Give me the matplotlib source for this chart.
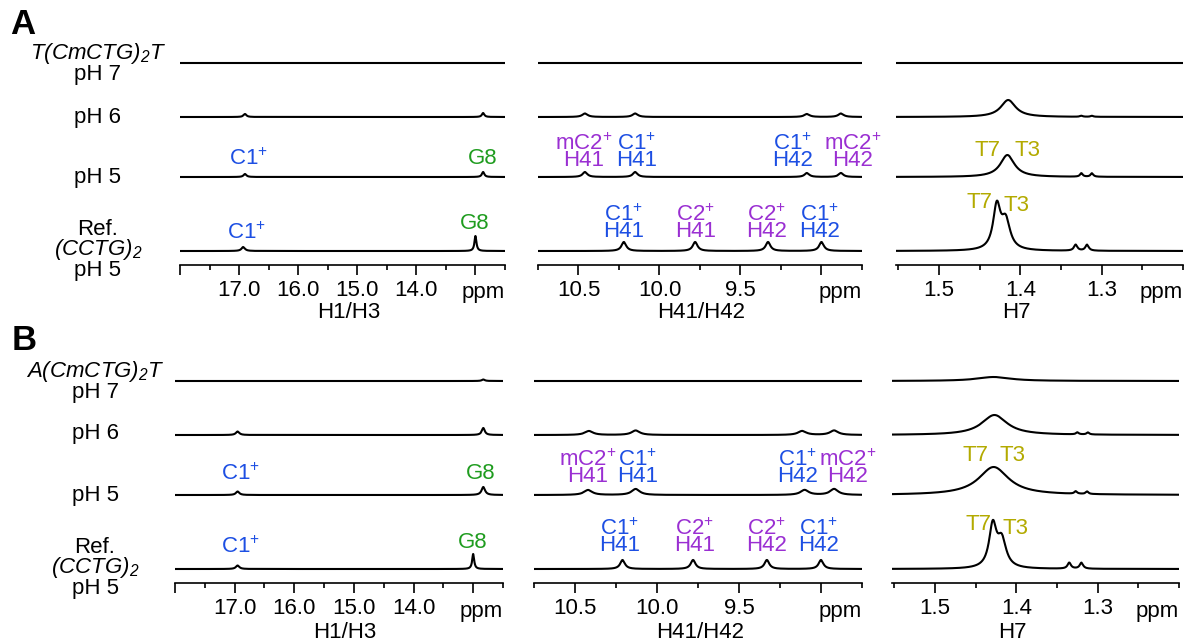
import numpy as np
import matplotlib
matplotlib.use("Agg")
import matplotlib.pyplot as plt
from matplotlib.transforms import blended_transform_factory

plt.rcParams['font.family'] = ['Liberation Sans', 'DejaVu Sans']
plt.rcParams['mathtext.fontset'] = 'custom'
plt.rcParams['mathtext.rm'] = 'Liberation Sans'
plt.rcParams['mathtext.it'] = 'Liberation Sans:italic'
plt.rcParams['mathtext.sf'] = 'Liberation Sans:italic'
plt.rcParams['mathtext.bf'] = 'Liberation Sans:bold'

# ---------------- data (ppm, peak heights, line widths) ----------------
REGION_NAMES = ['H1/H3', 'H41/H42', 'H7']
REGION_LIMITS = [(18.0, 12.5), (10.75, 8.75), (1.553, 1.2)]
REGION_MAJOR = [[18.0, 17.0, 16.0, 15.0, 14.0, 13.0], [10.5, 10.0, 9.5, 9.0], [1.5, 1.4, 1.3]]
REGION_MAJOR_LABELS = [['', '17.0', '16.0', '15.0', '14.0', ''], ['10.5', '10.0', '9.5', ''], ['1.5', '1.4', '1.3']]
REGION_MINOR = [[17.5, 16.5, 15.5, 14.5, 13.5, 12.5],
                [10.75, 10.25, 9.75, 9.25, 8.75],
                [1.55, 1.45, 1.35, 1.25, 1.2]]
REGION_LABEL_X = [15.15, 9.74, 1.405]

A_TRACE_LABELS = [r'$\mathsf{T(CmCTG)_{2}T}$' + '\npH 7', 'pH 6', 'pH 5',
                  'Ref.\n' + r'$\mathsf{(CCTG)_{2}}$' + '\npH 5']
B_TRACE_LABELS = [r'$\mathsf{A(CmCTG)_{2}T}$' + '\npH 7', 'pH 6', 'pH 5',
                  'Ref.\n' + r'$\mathsf{(CCTG)_{2}}$' + '\npH 5']

# Panel A, imino region (H1/H3)
A_IMINO_POS = [[], [16.90, 12.87], [16.90, 12.87], [16.93, 13.00]]
A_IMINO_HT = [[], [3, 4], [3, 5], [4, 15]]
A_IMINO_W = [[], [0.06, 0.05], [0.06, 0.05], [0.07, 0.04]]
# Panel A, amino region (H41/H42)
A_AMINO_POS = [[], [10.46, 10.15, 9.09, 8.88], [10.46, 10.15, 9.09, 8.88], [10.22, 9.78, 9.33, 9.00]]
A_AMINO_HT = [[], [3.5, 3.5, 3, 3.5], [5, 5, 4, 4], [9, 9, 9, 9]]
A_AMINO_W = [[], [0.04, 0.04, 0.04, 0.04], [0.035, 0.035, 0.035, 0.035], [0.035, 0.035, 0.035, 0.035]]
# Panel A, methyl region (H7)
A_METHYL_POS = [[], [1.415, 1.325, 1.312], [1.416, 1.325, 1.312], [1.429, 1.418, 1.332, 1.318]]
A_METHYL_HT = [[], [17, 1, 1], [22, 3.5, 3.5], [43, 28, 6, 6]]
A_METHYL_W = [[], [0.022, 0.004, 0.004], [0.021, 0.004, 0.004], [0.011, 0.013, 0.005, 0.005]]

# Panel B, imino region (H1/H3)
B_IMINO_POS = [[12.83], [16.95, 12.83], [16.95, 12.83], [16.95, 13.00]]
B_IMINO_HT = [[1.5], [3.5, 7], [3.5, 8], [3.5, 15]]
B_IMINO_W = [[0.06], [0.07, 0.06], [0.07, 0.07], [0.07, 0.04]]
# Panel B, amino region (H41/H42)
B_AMINO_POS = [[], [10.415, 10.13, 9.115, 8.92], [10.42, 10.13, 9.10, 8.92], [10.21, 9.78, 9.33, 9.00]]
B_AMINO_HT = [[], [4, 4.5, 4, 4.5], [5, 6, 5, 6], [9, 9, 9, 9]]
B_AMINO_W = [[], [0.06, 0.06, 0.06, 0.06], [0.06, 0.06, 0.06, 0.06], [0.035, 0.035, 0.035, 0.035]]
# Panel B, methyl region (H7)
B_METHYL_POS = [[1.428], [1.427, 1.325, 1.312], [1.428, 1.327, 1.313], [1.429, 1.418, 1.335, 1.32]]
B_METHYL_HT = [[4], [20, 2, 2], [28, 2.5, 2.5], [42, 27, 6, 6]]
B_METHYL_W = [[0.05], [0.038, 0.004, 0.004], [0.045, 0.004, 0.004], [0.011, 0.013, 0.005, 0.005]]

# annotations: (trace, ppm, height above baseline, text, colour key)
A_IMINO_ANN = [(2, 16.85, 18, 'C1+', 'c1'), (2, 12.87, 18, 'G8', 'g'),
               (3, 16.88, 18, 'C1+', 'c1'), (3, 13.02, 28, 'G8', 'g')]
B_IMINO_ANN = [(2, 16.90, 21, 'C1+', 'c1'), (2, 12.88, 21, 'G8', 'g'),
               (3, 16.90, 22, 'C1+', 'c1'), (3, 13.00, 27, 'G8', 'g')]
# two-line annotations: (trace, ppm, centre height, top, bottom, colour key)
A_AMINO_ANN = [(2, 10.47, 25, 'mC2+', 'H41', 'c2'), (2, 10.14, 25, 'C1+', 'H41', 'c1'),
               (2, 9.18, 25, 'C1+', 'H42', 'c1'), (2, 8.81, 25, 'mC2+', 'H42', 'c2'),
               (3, 10.22, 28, 'C1+', 'H41', 'c1'), (3, 9.78, 28, 'C2+', 'H41', 'c2'),
               (3, 9.34, 28, 'C2+', 'H42', 'c2'), (3, 9.01, 28, 'C1+', 'H42', 'c1')]
B_AMINO_ANN = [(2, 10.42, 27, 'mC2+', 'H41', 'c2'), (2, 10.12, 27, 'C1+', 'H41', 'c1'),
               (2, 9.145, 27, 'C1+', 'H42', 'c1'), (2, 8.84, 27, 'mC2+', 'H42', 'c2'),
               (3, 10.23, 32, 'C1+', 'H41', 'c1'), (3, 9.77, 32, 'C2+', 'H41', 'c2'),
               (3, 9.33, 32, 'C2+', 'H42', 'c2'), (3, 9.015, 32, 'C1+', 'H42', 'c1')]
A_METHYL_ANN = [(2, 1.440, 27, 'T7', 't'), (2, 1.391, 27, 'T3', 't'),
                (3, 1.450, 49, 'T7', 't'), (3, 1.405, 46, 'T3', 't')]
B_METHYL_ANN = [(2, 1.450, 39, 'T7', 't'), (2, 1.405, 39, 'T3', 't'),
                (3, 1.447, 44, 'T7', 't'), (3, 1.401, 41, 'T3', 't')]

# ---------------- styling / layout ----------------
COLORS = {'c1': '#1d4fe3', 'c2': '#9a2fd2', 'g': '#1f9c1f', 't': '#b3aa00'}
W, H = 1186, 644
FS = 16
TRACE_OFFSETS = [202, 148, 88, 14]   # baseline height above x axis, px
AX_H = 230
PANELS = {
    'A': dict(spine=265, xs=[(180, 505), (538, 862), (896, 1183)], letter=(10, 25),
              label_x=98, label_y=[63, 117, 177, 250],
              tick_y=292, name_y=313),
    'B': dict(spine=583, xs=[(175, 503), (534, 862), (892, 1179)], letter=(12, 341),
              label_x=95, label_y=[381, 433, 496, 568],
              tick_y=612, name_y=633),
}
PANEL_DATA = {
    'A': [(A_IMINO_POS, A_IMINO_HT, A_IMINO_W), (A_AMINO_POS, A_AMINO_HT, A_AMINO_W),
          (A_METHYL_POS, A_METHYL_HT, A_METHYL_W)],
    'B': [(B_IMINO_POS, B_IMINO_HT, B_IMINO_W), (B_AMINO_POS, B_AMINO_HT, B_AMINO_W),
          (B_METHYL_POS, B_METHYL_HT, B_METHYL_W)],
}
PANEL_ANN = {'A': (A_IMINO_ANN, A_AMINO_ANN, A_METHYL_ANN),
             'B': (B_IMINO_ANN, B_AMINO_ANN, B_METHYL_ANN)}
PANEL_LABELS = {'A': A_TRACE_LABELS, 'B': B_TRACE_LABELS}


def fmt(s):
    if s.endswith('+'):
        return r'$\mathregular{' + s[:-1] + '^{+}}$'
    return s


def spectrum(x, pos, ht, wid):
    y = np.zeros_like(x)
    for p, h, w in zip(pos, ht, wid):
        g = w / 2.0
        y += h * g * g / ((x - p) ** 2 + g * g)
    return y


fig = plt.figure(figsize=(W / 100, H / 100), dpi=100)

for pname, P in PANELS.items():
    spine = P['spine']
    fig.text(P['letter'][0] / W, 1 - P['letter'][1] / H, pname, fontsize=25,
             fontweight='bold', ha='left', va='center')
    # left labels
    for ly, lab in zip(P['label_y'], PANEL_LABELS[pname]):
        fig.text(P['label_x'] / W, 1 - ly / H, lab, fontsize=FS,
                 ha='center', va='center', multialignment='center', linespacing=0.88)
    for r in range(3):
        x0, x1 = P['xs'][r]
        ax = fig.add_axes([x0 / W, 1 - spine / H, (x1 - x0) / W, AX_H / H])
        ax.patch.set_alpha(0)
        lo, hi = REGION_LIMITS[r]
        ax.set_xlim(lo, hi)
        ax.set_ylim(0, AX_H)
        for s in ('top', 'left', 'right'):
            ax.spines[s].set_visible(False)
        ax.spines['bottom'].set_linewidth(1.2)
        ax.set_yticks([])
        ax.set_xticks(REGION_MAJOR[r], REGION_MAJOR_LABELS[r])
        ax.set_xticks(REGION_MINOR[r], minor=True)
        ax.tick_params(axis='x', which='major', length=7, width=1.2, labelsize=FS, pad=4)
        ax.tick_params(axis='x', which='minor', length=3.5, width=1.2)
        ax.text(1.0, 1 - P['tick_y'] / H, 'ppm',
                transform=blended_transform_factory(ax.transAxes, fig.transFigure),
                fontsize=FS, ha='right', va='center')
        ax.text(REGION_LABEL_X[r], 1 - P['name_y'] / H, REGION_NAMES[r],
                transform=blended_transform_factory(ax.transData, fig.transFigure),
                fontsize=FS, ha='center', va='center')
        x = np.linspace(hi, lo, 4000)
        posl, htl, wl = PANEL_DATA[pname][r]
        for t in range(4):
            y = TRACE_OFFSETS[t] + spectrum(x, posl[t], htl[t], wl[t])
            ax.plot(x, y, color='black', lw=1.5, solid_joinstyle='round')
        for a in PANEL_ANN[pname][r]:
            if len(a) == 5:
                t, px, dy, txt, ck = a
                ax.text(px, TRACE_OFFSETS[t] + dy, fmt(txt), color=COLORS[ck],
                        fontsize=FS, ha='center', va='center', clip_on=False)
            else:
                t, px, dy, top, bot, ck = a
                ax.text(px, TRACE_OFFSETS[t] + dy, fmt(top) + '\n' + fmt(bot), color=COLORS[ck],
                        fontsize=FS, ha='center', va='center', multialignment='center',
                        linespacing=0.7, clip_on=False)

fig.savefig('out.png', dpi=100)
